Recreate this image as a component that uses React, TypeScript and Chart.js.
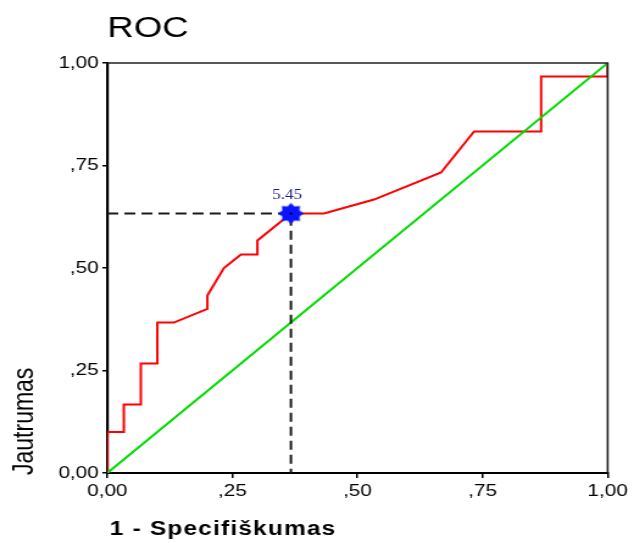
import { useEffect, useRef } from 'react';
import { Chart, registerables } from 'chart.js';

Chart.register(...registerables);

// ---- data ----
const rocX = [0, 0, 0.033, 0.033, 0.067, 0.067, 0.1, 0.1, 0.133, 0.2, 0.2, 0.233, 0.267, 0.3, 0.3, 0.367, 0.433, 0.533, 0.667, 0.733, 0.867, 0.867, 1, 1];
const rocY = [0, 0.1, 0.1, 0.167, 0.167, 0.267, 0.267, 0.367, 0.367, 0.4, 0.433, 0.5, 0.533, 0.533, 0.567, 0.633, 0.633, 0.667, 0.733, 0.833, 0.833, 0.967, 0.967, 1];
const refX = [0, 1];
const refY = [0, 1];
const cutX = 0.367;
const cutY = 0.633;
const cutLabel = '5.45';
const tickValues = [0, 0.25, 0.5, 0.75, 1];
const tickLabels = ['0,00', ',25', ',50', ',75', '1,00'];
const chartTitle = 'ROC';
const xTitle = '1 - Specifiškumas';
const yTitle = 'Jautrumas';

const W = 520;
const H = 543;

function makeStar(): HTMLCanvasElement {
  const c = document.createElement('canvas');
  c.width = 22;
  c.height = 22;
  const ctx = c.getContext('2d')!;
  ctx.fillStyle = '#0a14ff';
  ctx.beginPath();
  const n = 8;
  const ro = 10.5;
  const ri = 7.6;
  for (let i = 0; i < 2 * n; i++) {
    const r = i % 2 === 0 ? ro : ri;
    const a = -Math.PI / 2 + (i * Math.PI) / n;
    const px = 11 + r * Math.cos(a);
    const py = 11 + r * Math.sin(a);
    if (i === 0) ctx.moveTo(px, py);
    else ctx.lineTo(px, py);
  }
  ctx.closePath();
  ctx.fill();
  ctx.fillStyle = '#000';
  ctx.fillRect(10, 10, 2, 2);
  return c;
}

const labelFor = (v: number) => {
  const i = tickValues.findIndex((t) => Math.abs(t - v) < 1e-6);
  return i >= 0 ? tickLabels[i] : '';
};

export default function App() {
  const ref = useRef<HTMLCanvasElement>(null);

  useEffect(() => {
    const canvas = ref.current!;
    const star = makeStar();

    const decor = {
      id: 'decor',
      beforeDraw(chart: any) {
        const { ctx } = chart;
        ctx.save();
        ctx.fillStyle = '#fff';
        ctx.fillRect(0, 0, chart.width, chart.height);
        ctx.restore();
      },
      afterDatasetsDraw(chart: any) {
        const { ctx, chartArea: a, scales } = chart;
        ctx.save();
        ctx.strokeStyle = '#222';
        ctx.lineWidth = 1.6;
        ctx.beginPath();
        ctx.moveTo(a.left, a.top);
        ctx.lineTo(a.right, a.top);
        ctx.lineTo(a.right, a.bottom);
        ctx.stroke();
        ctx.font = '14px "Liberation Serif", serif';
        ctx.fillStyle = '#1c1c88';
        ctx.textAlign = 'center';
        ctx.textBaseline = 'alphabetic';
        ctx.fillText(cutLabel, scales.x.getPixelForValue(cutX) - 3, scales.y.getPixelForValue(cutY) - 14);
        ctx.restore();
      },
      afterDraw(chart: any) {
        const { ctx } = chart;
        ctx.save();
        ctx.fillStyle = '#000';
        ctx.textAlign = 'left';
        ctx.textBaseline = 'alphabetic';
        ctx.font = '30px "Liberation Sans", Arial, sans-serif';
        ctx.fillText(chartTitle, 88, 37);
        ctx.font = 'bold 20px "Liberation Sans", Arial, sans-serif';
        (ctx as any).letterSpacing = '1px';
        ctx.fillText(xTitle, 90, 535);
        (ctx as any).letterSpacing = '0px';
        ctx.translate(27, 475);
        ctx.rotate(-Math.PI / 2);
        ctx.font = '23px "Liberation Sans", Arial, sans-serif';
        ctx.fillText(yTitle, 0, 0);
        ctx.restore();
      },
    };

    const chart = new Chart(canvas, {
      type: 'scatter',
      data: {
        datasets: [
          {
            data: [{ x: cutX, y: cutY }],
            pointStyle: star as any,
            pointRadius: 10,
            showLine: false,
          },
          {
            data: [
              { x: 0, y: cutY },
              { x: cutX, y: cutY },
              { x: cutX, y: 0 },
            ],
            showLine: true,
            borderColor: '#1a1a1a',
            borderWidth: 2,
            borderDash: [9, 5],
            pointRadius: 0,
            fill: false,
          },
          {
            data: refX.map((x, i) => ({ x, y: refY[i] })),
            showLine: true,
            borderColor: '#00dd00',
            borderWidth: 2,
            pointRadius: 0,
            fill: false,
          },
          {
            data: rocX.map((x, i) => ({ x, y: rocY[i] })),
            showLine: true,
            borderColor: '#ff0000',
            borderWidth: 2,
            pointRadius: 0,
            fill: false,
            tension: 0,
          },
        ],
      },
      options: {
        responsive: false,
        devicePixelRatio: 1,
        animation: false,
        layout: { padding: { top: 63, right: 21.6, bottom: 0, left: 0 } },
        plugins: {
          legend: { display: false },
          tooltip: { enabled: false },
          title: { display: false },
        },
        font: { family: '"Liberation Sans", Arial, sans-serif' } as any,
        scales: {
          x: {
            type: 'linear',
            min: 0,
            max: 1,
            afterFit: (s: any) => {
              s.height = 70;
            },
            ticks: {
              stepSize: 0.25,
              padding: 3,
              color: '#000',
              font: { size: 17, family: '"Liberation Sans", Arial, sans-serif' },
              callback: (v: any) => labelFor(Number(v)),
            },
            grid: { display: true, drawOnChartArea: false, drawTicks: true, tickLength: 5, color: '#000', lineWidth: 1.5 },
            border: { display: true, color: '#000', width: 2 },
          },
          y: {
            type: 'linear',
            min: 0,
            max: 1,
            afterFit: (s: any) => {
              s.width = 88;
            },
            ticks: {
              stepSize: 0.25,
              padding: 3,
              color: '#000',
              font: { size: 17, family: '"Liberation Sans", Arial, sans-serif' },
              callback: (v: any) => labelFor(Number(v)),
            },
            grid: { display: true, drawOnChartArea: false, drawTicks: true, tickLength: 4, color: '#000', lineWidth: 1.5 },
            border: { display: true, color: '#000', width: 2.2 },
          },
        },
      },
      plugins: [decor],
    });

    return () => chart.destroy();
  }, []);

  return (
    <div style={{ position: 'absolute', left: 0, top: 0, width: 634, height: H }}>
      <canvas ref={ref} width={W} height={H} style={{ width: '634px', height: `${H}px`, display: 'block' }} />
    </div>
  );
}
